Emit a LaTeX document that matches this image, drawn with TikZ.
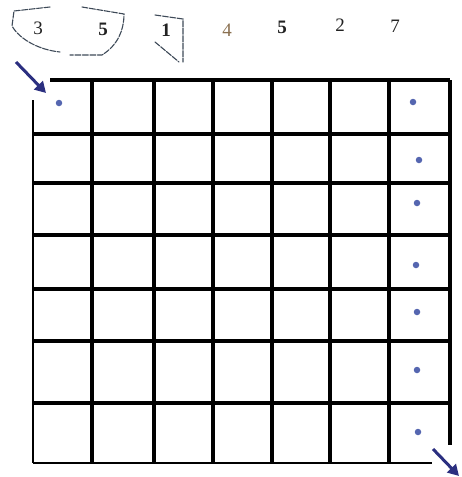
\documentclass[tikz,border=0pt]{standalone}
\usepackage{fontspec}
\setmainfont{Liberation Serif}
\usetikzlibrary{arrows.meta}
\definecolor{dotblue}{HTML}{5566B0}
\definecolor{arrowblue}{HTML}{2B2F80}
\definecolor{loopgray}{HTML}{3E4A58}
\definecolor{numgray}{HTML}{222222}
\definecolor{numbrown}{HTML}{8A7050}
\tikzset{
  gridline/.style={line width=3.4pt, black},
  dotmark/.style={circle, fill=dotblue, inner sep=0pt, minimum size=6.5pt},
  pointer/.style={line width=3pt, arrowblue, -{Triangle[length=11pt,width=12pt]}},
  loopline/.style={line width=1.1pt, loopgray, dash pattern=on 6pt off 1.5pt, line cap=round},
  num/.style={font=\fontsize{19}{19}\selectfont, text=numgray, inner sep=0pt}
}
\begin{document}
\begin{tikzpicture}[x=1pt,y=-1pt]
\useasboundingbox (0,0) rectangle (461,477);
% numbers
\node[num] (n1) at (38,28) {3};
\node[num, font=\fontsize{19}{19}\selectfont\bfseries] (n2) at (103,29) {5};
\node[num, font=\fontsize{19}{19}\selectfont\bfseries] (n3) at (166,30) {1};
\node[num, text=numbrown] (n4) at (227,30) {4};
\node[num, font=\fontsize{19}{19}\selectfont\bfseries] (n5) at (282,27) {5};
\node[num] (n6) at (340,25) {2};
\node[num] (n7) at (395,26) {7};
% hand-drawn loops
\draw[loopline] (50,7) -- (14,11) -- (12,26) .. controls (20,40) and (40,50) .. (60,52);
\draw[loopline] (82,7) -- (124,14) .. controls (124,30) and (118,45) .. (102,55) -- (70,55);
\draw[loopline] (155,15) -- (183,19) -- (183,62);
\draw[loopline] (155,42) -- (179,62);
% grid coordinates
\foreach \i/\x in {0/33,1/92,2/154,3/213,4/272,5/330,6/389,7/450}
  \coordinate (c\i) at (\x,0);
\foreach \j/\y in {0/80,1/134,2/183,3/235,4/289,5/341,6/403,7/463}
  \coordinate (r\j) at (0,\y);
% top line (gap at left corner)
\draw[gridline] (c0 |- r0) ++(17,0) coordinate (tl) -- (c7 |- r0);
% left line (gap at top)
\draw[gridline, line width=2.8pt] (33,100) coordinate (lt) -- (c0 |- r7);
% bottom line (gap at right)
\draw[gridline, line width=2.8pt] (c0 |- r7) -- (432,463) coordinate (br);
% right line (gap at bottom)
\draw[gridline] (c7 |- r0) -- (450,445) coordinate (rb);
% inner vertical lines
\foreach \i in {1,...,6}
  \draw[gridline] (c\i |- r0) -- (c\i |- r7);
% inner horizontal lines
\foreach \j in {1,...,6}
  \draw[gridline] (c0 |- r\j) -- (c7 |- r\j);
% dots
\node[dotmark] (d0) at (59,103) {};
\node[dotmark] (d1) at (413,102) {};
\node[dotmark] (d2) at (419,160) {};
\node[dotmark] (d3) at (417,203) {};
\node[dotmark] (d4) at (416,265) {};
\node[dotmark] (d5) at (417,312) {};
\node[dotmark] (d6) at (417,370) {};
\node[dotmark] (d7) at (418,432) {};
% arrows
\coordinate (a1s) at (16,62);
\coordinate (a1e) at (46,93);
\draw[pointer] (a1s) -- (a1e);
\coordinate (a2s) at (433,449);
\coordinate (a2e) at (459,476);
\draw[pointer] (a2s) -- (a2e);
\end{tikzpicture}
\end{document}
